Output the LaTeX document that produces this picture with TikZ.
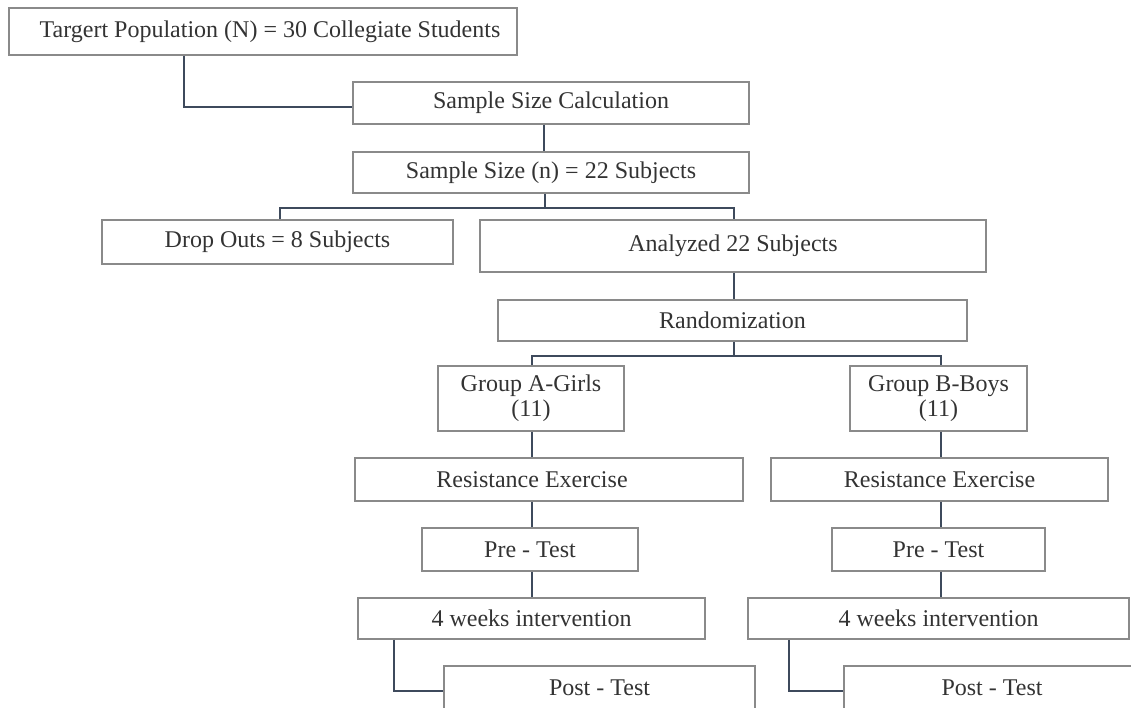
\documentclass[tikz,border=0pt]{standalone}
\usepackage{fontspec}
\setmainfont{Liberation Serif}
\definecolor{boxline}{HTML}{8A8A8A}
\definecolor{linkline}{HTML}{3E4A5C}
\definecolor{boxtext}{HTML}{333333}
\begin{document}
\begin{tikzpicture}[x=1pt,y=-1pt,
  box/.style={draw=boxline, line width=1.5pt, text=boxtext, inner sep=0pt, align=center, font=\fontsize{24}{25}\selectfont},
  link/.style={draw=linkline, line width=2pt}]
\useasboundingbox (0,0) rectangle (1131,707);
\node[box, minimum width=508pt, minimum height=47pt] (pop) at (263,31.5) {\hspace*{14pt}Targert Population (N) = 30 Collegiate Students};
\node[box, minimum width=396pt, minimum height=42pt] (calc) at (551,103) {Sample Size Calculation};
\node[box, minimum width=396pt, minimum height=41pt] (ssize) at (551,172.5) {Sample Size (n) = 22 Subjects};
\node[box, minimum width=351pt, minimum height=44pt] (drop) at (277.5,242) {Drop Outs = 8 Subjects};
\node[box, minimum width=506pt, minimum height=52pt] (anal) at (733,246) {Analyzed 22 Subjects};
\node[box, minimum width=469pt, minimum height=41pt] (rand) at (732.5,320.5) {Randomization};
\node[box, minimum width=186pt, minimum height=65pt] (grpA) at (531,398.5) {Group A-Girls\\(11)};
\node[box, minimum width=177pt, minimum height=65pt] (grpB) at (938.5,398.5) {Group B-Boys\\(11)};
\node[box, minimum width=388pt, minimum height=43pt] (resA) at (549,479.5) {\hspace*{-34pt}Resistance Exercise};
\node[box, minimum width=337pt, minimum height=43pt] (resB) at (939.5,479.5) {Resistance Exercise};
\node[box, minimum width=216pt, minimum height=43pt] (preA) at (530,549.5) {Pre - Test};
\node[box, minimum width=213pt, minimum height=43pt] (preB) at (938.5,549.5) {Pre - Test};
\node[box, minimum width=347pt, minimum height=41pt] (wkA) at (531.5,618.5) {4 weeks intervention};
\node[box, minimum width=381pt, minimum height=41pt] (wkB) at (938.5,618.5) {4 weeks intervention};
\node[box, minimum width=311pt, minimum height=44pt] (postA) at (599.5,688) {Post - Test};
\node[box, minimum width=296pt, minimum height=44pt] (postB) at (992,688) {Post - Test};
\coordinate (split1) at (545,208);
\coordinate (split2) at (734,356);
\draw[link] ([xshift=-79pt]pop.south) |- ([yshift=-4pt]calc.west);
\draw[link] ([xshift=-7pt]calc.south) -- ([xshift=-7pt]ssize.north);
\draw[link] (ssize.south -| split1) -- (split1);
\draw[link] (drop.north -| 280,0) |- (split1) -| (anal.north -| split2);
\draw[link] (anal.south -| split2) -- (rand.north -| split2);
\draw[link] (rand.south -| split2) -- (split2);
\draw[link] (grpA.north -| 532,0) |- (split2) -| (grpB.north -| 941,0);
\draw[link] (grpA.south -| 532,0) -- (resA.north -| 532,0);
\draw[link] (resA.south -| 532,0) -- (preA.north -| 532,0);
\draw[link] (preA.south -| 532,0) -- (wkA.north -| 532,0);
\draw[link] (grpB.south -| 941,0) -- (resB.north -| 941,0);
\draw[link] (resB.south -| 941,0) -- (preB.north -| 941,0);
\draw[link] (preB.south -| 941,0) -- (wkB.north -| 941,0);
\draw[link] (wkA.south -| 394,0) |- ([yshift=-3pt]postA.west);
\draw[link] (wkB.south -| 789,0) |- ([yshift=-3pt]postB.west);
\end{tikzpicture}
\end{document}
